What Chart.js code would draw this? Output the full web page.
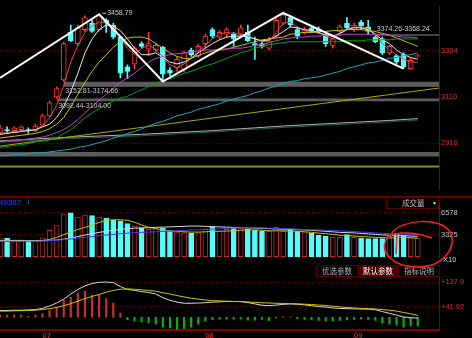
<!DOCTYPE html>
<html>
<head>
<meta charset="utf-8">
<title>K线 成交量 MACD</title>
<script src="https://cdn.jsdelivr.net/npm/chart.js@4.4.1/dist/chart.umd.min.js"></script>
<style>
  html, body { margin: 0; padding: 0; background: #000; }
  #wrap { position: relative; width: 472px; height: 338px; overflow: hidden; background: #000;
          font-family: "Liberation Sans", Arial, sans-serif; }
  #wrap canvas { position: absolute; left: 0; }
  .t { position: absolute; white-space: nowrap; line-height: 1; }
  .cn { font-family: "Noto Sans CJK SC", sans-serif; font-size: 7.5px; }
  .btn { position: absolute; top: 265px; height: 12px; border: 1px solid #5a0000; box-sizing: border-box;
         color: #b4b4b4; text-align: center; line-height: 10px; }
</style>
</head>
<body>
<div id="wrap">
  <canvas id="main" width="472" height="197" style="top:0"></canvas>
  <canvas id="vol" width="472" height="68" style="top:197px"></canvas>
  <canvas id="macd" width="472" height="73" style="top:265px"></canvas>

  <div style="position:absolute;left:0;top:196px;width:472px;height:2px;background:#6e0000"></div>
  <div class="t" style="left:-1px;top:199px;font-size:8px;color:#3a3aff">49387</div>
  <div class="t" style="left:26px;top:198px;font-size:8px;color:#38d8e8">↓</div>
  <div style="position:absolute;left:386px;top:197px;width:53px;height:12px;border:1px solid #5a0000;box-sizing:border-box"></div>
  <div class="t cn" style="left:402px;top:199px;color:#c0c0c0">成交量</div>
  <div class="t" style="left:432px;top:201px;font-size:5px;color:#e0e0e0">▼</div>
  <div class="t" style="left:443px;top:256px;font-size:7.5px;color:#d0d0d0">X10</div>
  <div class="btn cn" style="left:316px;width:42px">优选参数</div>
  <div class="btn cn" style="left:357px;width:42px;background:#4a0000;color:#fff">默认参数</div>
  <div class="btn cn" style="left:398px;width:42px">指标说明</div>

  <!-- hand drawn mark -->
  <svg width="472" height="338" style="position:absolute;left:0;top:0">
    <path d="M 392 233 C 400 220, 440 216, 450 232 C 458 246, 444 267, 418 267 C 392 267, 380 252, 386 240 C 390 232, 410 230, 432 238"
          fill="none" stroke="#ff1e1e" stroke-width="1.5"/>
    <path d="M 397 233 L 396 254" fill="none" stroke="#ff1e1e" stroke-width="1.5"/>
  </svg>
</div>

<script>
// 日K（图上读数，近似）
const open = [2960.5, 2972.2, 2968.3, 2972.2, 2972.2, 2968.3, 2991.7, 3030.7, 3110.0, 3182.0,
  3382.1, 3335.2, 3393.8, 3421.1, 3393.8, 3432.8, 3413.3, 3362.6, 3237.6, 3249.4,
  3335.2, 3311.8, 3307.9, 3319.6, 3222.0, 3233.7, 3225.9, 3307.9, 3284.5, 3335.2,
  3393.8, 3362.6, 3374.3, 3374.3, 3374.3, 3382.1, 3335.2, 3335.2, 3315.7, 3366.5,
  3421.1, 3444.6, 3393.8, 3382.1, 3401.6, 3397.7, 3366.5, 3327.4, 3386.0, 3421.1,
  3393.8, 3425.0, 3405.5, 3362.6, 3354.8, 3296.2, 3284.5, 3288.4, 3229.8, 3280.6];
const close = [2980.0, 2968.3, 2980.0, 2983.9, 2968.3, 2987.8, 3030.7, 3085.0, 3146.0, 3335.2,
  3346.9, 3401.6, 3444.6, 3386.0, 3452.4, 3421.1, 3362.6, 3210.3, 3218.1, 3315.7,
  3323.5, 3335.2, 3327.4, 3206.4, 3210.3, 3268.9, 3296.2, 3288.4, 3323.5, 3366.5,
  3366.5, 3382.1, 3393.8, 3354.8, 3401.6, 3346.9, 3327.4, 3323.5, 3346.9, 3432.8,
  3456.3, 3413.3, 3366.5, 3393.8, 3386.0, 3386.0, 3335.2, 3354.8, 3405.5, 3401.6,
  3413.3, 3409.4, 3386.0, 3343.0, 3296.2, 3323.5, 3257.2, 3237.6, 3265.0, 3284.5];
const high = [2991.7, 2983.9, 2983.9, 2987.8, 2980.0, 2995.6, 3038.5, 3092.44, 3152.81, 3343.0,
  3413.3, 3413.3, 3452.4, 3432.8, 3458.79, 3440.6, 3421.1, 3366.5, 3245.5, 3323.5,
  3343.0, 3382.1, 3335.2, 3323.5, 3233.7, 3276.7, 3304.0, 3315.7, 3331.3, 3374.3,
  3401.6, 3389.9, 3401.6, 3382.1, 3413.3, 3413.3, 3362.6, 3343.0, 3362.6, 3440.6,
  3464.1, 3452.4, 3405.5, 3405.5, 3405.5, 3405.5, 3382.1, 3358.7, 3413.3, 3444.6,
  3421.1, 3432.8, 3432.8, 3368.24, 3362.6, 3327.4, 3288.4, 3296.2, 3272.8, 3288.4];
const low = [2952.6, 2956.6, 2964.4, 2968.3, 2956.6, 2964.4, 2987.8, 3026.8, 3104.0, 3174.66,
  3343.0, 3327.4, 3386.0, 3382.1, 3386.0, 3382.1, 3354.8, 3190.8, 3186.9, 3229.8,
  3315.7, 3284.5, 3300.1, 3175.2, 3198.6, 3218.1, 3218.1, 3280.6, 3276.7, 3315.7,
  3358.7, 3354.8, 3362.6, 3323.5, 3362.6, 3343.0, 3268.9, 3315.7, 3307.9, 3358.7,
  3413.3, 3405.5, 3354.8, 3374.3, 3382.1, 3378.2, 3323.5, 3315.7, 3382.1, 3393.8,
  3386.0, 3393.8, 3374.26, 3339.1, 3288.4, 3288.4, 3249.4, 3229.8, 3226.0, 3276.7];

// 均线
const ma5 = [2956.6, 2960.5, 2964.4, 2968.3, 2968.3, 2972.2, 2987.8, 3022.9, 3073.7, 3159.6,
  3257.2, 3327.4, 3382.1, 3409.4, 3425.0, 3425.0, 3405.5, 3362.6, 3315.7, 3288.4,
  3315.7, 3327.4, 3311.8, 3276.7, 3245.5, 3233.7, 3249.4, 3272.8, 3300.1, 3327.4,
  3354.8, 3374.3, 3382.1, 3378.2, 3374.3, 3366.5, 3354.8, 3343.0, 3346.9, 3382.1,
  3421.1, 3425.0, 3405.5, 3389.9, 3382.1, 3382.1, 3366.5, 3354.8, 3374.3, 3393.8,
  3405.5, 3405.5, 3397.7, 3374.3, 3335.2, 3307.9, 3288.4, 3268.9, 3257.2, 3257.2];
const ma10 = [2952.6, 2956.6, 2960.5, 2964.4, 2968.3, 2972.2, 2983.9, 2995.6, 3022.9, 3069.8,
  3132.2, 3210.3, 3296.2, 3354.8, 3393.8, 3413.3, 3409.4, 3389.9, 3354.8, 3315.7,
  3288.4, 3288.4, 3296.2, 3276.7, 3257.2, 3249.4, 3257.2, 3272.8, 3296.2, 3315.7,
  3335.2, 3350.9, 3362.6, 3366.5, 3366.5, 3362.6, 3354.8, 3346.9, 3350.9, 3366.5,
  3386.0, 3405.5, 3401.6, 3393.8, 3389.9, 3382.1, 3370.4, 3366.5, 3378.2, 3393.8,
  3401.6, 3401.6, 3393.8, 3374.3, 3350.9, 3335.2, 3307.9, 3288.4, 3276.7, 3268.9];
const ma20 = [2937.0, 2940.9, 2944.8, 2948.7, 2952.6, 2956.6, 2964.4, 2976.1, 2995.6, 3022.9,
  3069.8, 3120.5, 3171.3, 3218.1, 3257.2, 3288.4, 3319.6, 3343.0, 3358.7, 3362.6,
  3362.6, 3354.8, 3335.2, 3315.7, 3296.2, 3280.6, 3272.8, 3272.8, 3284.5, 3296.2,
  3304.0, 3307.9, 3311.8, 3319.6, 3327.4, 3335.2, 3343.0, 3350.9, 3354.8, 3358.7,
  3362.6, 3374.3, 3378.2, 3382.1, 3382.1, 3386.0, 3386.0, 3389.9, 3389.9, 3393.8,
  3393.8, 3393.8, 3389.9, 3386.0, 3378.2, 3370.4, 3358.7, 3346.9, 3335.2, 3323.5];
const ma30 = [2921.4, 2925.3, 2925.3, 2929.2, 2933.1, 2937.0, 2940.9, 2948.7, 2960.5, 2972.2,
  2991.7, 3015.1, 3042.4, 3069.8, 3097.1, 3120.5, 3147.8, 3171.3, 3190.8, 3210.3,
  3233.7, 3257.2, 3272.8, 3280.6, 3288.4, 3292.3, 3296.2, 3300.1, 3304.0, 3307.9,
  3307.9, 3311.8, 3311.8, 3315.7, 3315.7, 3319.6, 3327.4, 3331.3, 3339.1, 3346.9,
  3354.8, 3358.7, 3362.6, 3362.6, 3366.5, 3366.5, 3370.4, 3370.4, 3370.4, 3374.3,
  3374.3, 3374.3, 3374.3, 3374.3, 3374.3, 3370.4, 3366.5, 3362.6, 3362.6, 3358.7];
const ma60 = [2898.0, 2901.9, 2905.8, 2909.7, 2913.6, 2921.4, 2925.3, 2929.2, 2937.0, 2956.6,
  2972.2, 2995.6, 3022.9, 3042.4, 3062.0, 3077.6, 3093.2, 3104.9, 3112.7, 3128.3,
  3140.0, 3155.7, 3167.4, 3179.1, 3186.9, 3198.6, 3210.3, 3218.1, 3229.8, 3241.5,
  3249.4, 3261.1, 3272.8, 3284.5, 3296.2, 3304.0, 3315.7, 3323.5, 3331.3, 3335.2,
  3339.1, 3343.0, 3343.0, 3343.0, 3343.0, 3343.0, 3343.0, 3343.0, 3343.0, 3346.9,
  3346.9, 3346.9, 3350.9, 3350.9, 3350.9, 3350.9, 3354.8, 3354.8, 3354.8, 3354.8];
const ma120 = [2862.9, 2862.9, 2866.8, 2866.8, 2870.7, 2874.6, 2874.6, 2878.5, 2882.4, 2886.3,
  2890.2, 2898.0, 2901.9, 2909.7, 2917.5, 2925.3, 2937.0, 2944.8, 2956.6, 2964.4,
  2976.1, 2987.8, 2999.5, 3007.3, 3019.0, 3030.7, 3038.5, 3046.3, 3058.1, 3065.9,
  3073.7, 3081.5, 3093.2, 3101.0, 3108.8, 3116.6, 3128.3, 3136.1, 3147.8, 3155.7,
  3167.4, 3175.2, 3179.1, 3186.9, 3190.8, 3194.7, 3202.5, 3210.3, 3218.1, 3229.8,
  3237.6, 3245.5, 3253.3, 3257.2, 3265.0, 3272.8, 3276.7, 3284.5, 3288.4, 3296.2];
// 长周期均线，只读了部分K线位置
const longBars = [0, 5, 10, 15, 20, 25, 30, 35, 40, 45, 50, 55, 59];
const maLongA = [2925.3, 2933.1, 2940.9, 2946.8, 2952.6, 2960.5, 2968.3, 2978.0, 2987.8, 2995.6, 3003.4, 3011.2, 3019.0];
const maLongB = [2919.5, 2927.2, 2935.0, 2940.9, 2946.7, 2954.6, 2962.4, 2972.2, 2981.9, 2989.7, 2997.5, 3005.3, 3013.1];

// 画线
const trendBars = [0, 62];
const trendValues = [2903.1, 3147.8];
const zigBars = [0, 14, 23, 40, 57];
const zigValues = [3190.8, 3458.79, 3175.2, 3464.1, 3229.8];
const peakBar = 14;
const peakValue = 3458.79;

// 缺口
const gapStart = [8, 9, 53];
const gapLow = [3092.44, 3152.81, 3368.24];
const gapHigh = [3104.00, 3174.66, 3374.26];
const gapText = ['3092.44-3104.00', '3152.81-3174.66', '3374.26-3368.24'];
const supportLow = 2859.0;
const supportHigh = 2878.5;
const baseLine = 2817.2;

// 成交量 (X10)
const vol = [2710, 2780, 2510, 2510, 2390, 2390, 2820, 3970, 4680, 6460,
  6578, 5940, 6260, 6180, 5940, 5790, 5470, 5390, 4960, 4600,
  4290, 4090, 4210, 4290, 3810, 3700, 3580, 3500, 3580, 4170,
  4480, 3890, 4090, 4290, 4290, 4170, 4010, 3810, 3810, 4400,
  3810, 4170, 3810, 3770, 3500, 3220, 3100, 2900, 2900, 3300,
  2900, 2780, 2710, 2710, 2710, 3100, 3500, 3180, 2900, 2820];
const volMa5 = [2390, 2390, 2390, 2390, 2390, 2390, 2430, 2590, 2900, 3300,
  3690, 4090, 4400, 4760, 5150, 5470, 5550, 5550, 5470, 5190,
  4760, 4400, 4210, 4010, 3890, 3810, 3730, 3690, 3690, 3730,
  3810, 3810, 3850, 3890, 3970, 4010, 4010, 3970, 3890, 3890,
  3890, 3850, 3810, 3730, 3650, 3530, 3460, 3340, 3220, 3180,
  3100, 3020, 2980, 2900, 2860, 2820, 2860, 2860, 2820, 2780];
const volMa10 = [2390, 2390, 2390, 2390, 2390, 2390, 2390, 2430, 2510, 2630,
  2780, 3020, 3260, 3460, 3650, 3810, 3970, 4090, 4210, 4290,
  4330, 4360, 4400, 4440, 4480, 4520, 4560, 4600, 4600, 4560,
  4520, 4480, 4440, 4400, 4360, 4330, 4290, 4250, 4210, 4170,
  4130, 4090, 4050, 4010, 3970, 3890, 3810, 3730, 3650, 3610,
  3570, 3500, 3420, 3340, 3260, 3220, 3180, 3140, 3100, 3060];
const volMa20 = [2310, 2310, 2310, 2310, 2310, 2310, 2350, 2390, 2470, 2550,
  2670, 2780, 2900, 3020, 3180, 3260, 3340, 3460, 3530, 3610,
  3650, 3690, 3730, 3810, 3850, 3890, 3930, 4010, 4050, 4090,
  4130, 4170, 4250, 4290, 4360, 4360, 4330, 4330, 4290, 4250,
  4210, 4170, 4130, 4090, 4050, 4010, 3970, 3930, 3890, 3810,
  3770, 3690, 3650, 3570, 3500, 3460, 3420, 3380, 3340, 3300];

// MACD
const dif = [26.6, 26.6, 27.7, 27.7, 28.8, 30.0, 34.8, 44.4, 56.1, 71.4,
  91.7, 109.5, 123.7, 133.3, 137.9, 139.0, 136.8, 121.2, 109.5, 105.9,
  101.3, 97.7, 91.7, 77.5, 66.8, 59.7, 55.1, 55.1, 56.1, 57.2,
  59.7, 60.8, 62.2, 62.2, 61.5, 58.0, 52.6, 47.3, 45.5, 48.0,
  50.8, 52.6, 51.5, 49.0, 45.5, 41.9, 40.1, 36.6, 34.8, 33.7,
  33.0, 32.3, 32.3, 29.5, 22.4, 15.3, 8.2, 1.0, -1.8, -3.2];
const dea = [24.1, 24.1, 25.2, 25.9, 26.6, 27.7, 30.2, 33.7, 38.4, 45.5,
  53.7, 63.3, 73.9, 82.1, 89.9, 98.8, 105.9, 110.5, 111.9, 110.5,
  108.4, 105.9, 102.4, 97.0, 91.7, 85.6, 80.0, 75.0, 71.4, 67.9,
  65.7, 64.3, 63.3, 62.2, 62.2, 60.4, 58.6, 57.2, 56.1, 55.1,
  54.4, 53.3, 52.6, 51.5, 50.1, 48.3, 46.2, 43.7, 40.9, 38.4,
  36.6, 34.8, 33.7, 32.3, 30.2, 27.7, 24.1, 18.8, 13.5, 7.4];
const macdHist = [8.5, 8.5, 8.5, 8.5, 3.6, 8.5, 14.0, 26.0, 40.5, 67.5,
  79.6, 94.9, 103.0, 87.8, 87.8, 73.6, 55.8, 16.7, -9.5, -15.3,
  -18.8, -21.3, -27.0, -39.0, -42.6, -48.0, -45.0, -39.0, -27.0, -15.3,
  -9.5, -8.0, -8.0, -8.0, -7.0, -12.0, -12.0, -9.0, -14.0, -3.0,
  3.0, 2.0, -6.0, -9.0, -11.0, -13.0, -15.0, -15.0, -13.0, -11.0,
  -9.0, -7.0, -9.0, -13.0, -24.0, -27.0, -31.0, -39.0, -33.0, -35.0];

// 坐标
const priceTicks = [3304, 3110, 2916];
const volTicks = [6578, 3325];
const macdTicks = [137.9, 41.92];
const monthLabels = ['07', '08', '09'];
const monthStart = [6, 29, 50];

const bars = open.map((_, i) => i);
const lastSlot = 62;

const RED = '#ff3232', CYAN = '#54fcfc', VOLRED = '#c02a2a', GRID = '#720000', AXIS = '#820000';
const isUp = i => close[i] >= open[i];

Chart.defaults.font.family = '"Liberation Sans", Arial, sans-serif';

function opts(yMin, yMax, ticks, fmt, tickColor, showX) {
  return {
    responsive: false, animation: false, devicePixelRatio: 1,
    layout: { padding: 0 },
    plugins: { legend: { display: false }, tooltip: { enabled: false } },
    scales: {
      x: {
        type: 'linear', min: 0, max: lastSlot, offset: false, display: showX,
        grid: { display: false, offset: false, drawTicks: false },
        border: { display: true, color: AXIS, width: 2 },
        ticks: { color: RED, font: { size: 7.5 }, padding: 1, autoSkip: false, maxRotation: 0, align: 'start',
                 callback: v => monthLabels[monthStart.indexOf(v)] },
        afterBuildTicks: s => { s.ticks = monthStart.map(v => ({ value: v })); },
        afterFit: s => { s.height = 8; }
      },
      y: {
        position: 'right', min: yMin, max: yMax, beginAtZero: false,
        grid: { color: GRID, drawTicks: false },
        border: { color: AXIS, dash: [1, 2] },
        ticks: { color: tickColor, font: { size: 7.5 }, padding: 2, callback: fmt },
        afterBuildTicks: s => { s.ticks = ticks.map(v => ({ value: v })); },
        afterFit: s => { s.width = 33; }
      }
    }
  };
}

const line = (data, color, order = 2, width = 1) => ({
  type: 'line', data, borderColor: color, borderWidth: width, pointRadius: 0,
  fill: false, tension: 0, spanGaps: true, order
});
const band = (from, lo, hi) => ({
  type: 'line', data: [{ x: from, y: hi }, { x: lastSlot, y: hi }],
  borderColor: 'rgba(0,0,0,0)', borderWidth: 1, backgroundColor: '#5c5c5c',
  fill: { value: lo }, pointRadius: 0, order: 9
});
const pts = (xs, ys) => xs.map((x, i) => ({ x, y: ys[i] }));

// 缺口和高点的文字
const mainLabels = {
  id: 'mainLabels',
  afterDatasetsDraw(chart) {
    const { ctx, scales: { x, y } } = chart;
    ctx.save();
    ctx.font = '7px "Liberation Sans", Arial';
    ctx.fillStyle = '#c8c8c8';
    gapStart.forEach((s, i) => {
      const px = x.getPixelForValue(s) + 1.5;
      const top = y.getPixelForValue(gapHigh[i]);
      if (top < chart.chartArea.height * 0.25) {
        ctx.textBaseline = 'bottom';
        ctx.fillText(gapText[i], px, top - 2);
      } else {
        ctx.textBaseline = 'top';
        ctx.fillText(gapText[i], px, y.getPixelForValue(gapLow[i]) + 1);
      }
    });
    const pk = x.getPixelForValue(peakBar), py = y.getPixelForValue(peakValue) - 1;
    ctx.strokeStyle = '#c8c8c8';
    ctx.lineWidth = 1;
    ctx.beginPath();
    ctx.moveTo(pk + 3, py);
    ctx.lineTo(pk + 7, py);
    ctx.stroke();
    ctx.textBaseline = 'middle';
    ctx.fillText(peakValue.toFixed(2), pk + 8, py);
    ctx.restore();
  }
};

new Chart(document.getElementById('main'), {
  type: 'bar',
  data: {
    labels: bars,
    datasets: [
      band(0, supportLow, supportHigh),
      line(pts([0, lastSlot], [baseLine, baseLine]), '#8c8c00', 9, 2),
      ...gapStart.map((s, i) => band(s, gapLow[i], gapHigh[i])),
      { type: 'bar', data: bars.map(i => [low[i], high[i]]), grouped: false, barThickness: 1,
        backgroundColor: c => isUp(c.dataIndex) ? RED : CYAN, order: 6 },
      { type: 'bar', data: bars.map(i => [open[i], close[i]]), grouped: false, barThickness: 5,
        borderWidth: 1, borderSkipped: false,
        backgroundColor: c => isUp(c.dataIndex) ? '#000' : CYAN,
        borderColor: c => isUp(c.dataIndex) ? RED : CYAN, order: 5 },
      line(pts(trendBars, trendValues), '#a8a800', 3),
      line(pts(longBars, maLongA), '#b4b4a4', 3),
      line(pts(longBars, maLongB), '#1f5656', 3),
      line(ma120, '#1aa6b8'),
      line(ma60, '#00a800'),
      line(ma30, '#c040c8'),
      line(ma20, '#c4c400'),
      line(ma10, '#e8e8e8'),
      line(ma5, '#e04848'),
      line(pts(zigBars, zigValues), '#ffffff', 0, 2)
    ]
  },
  options: opts(2722.3, 3491.4, priceTicks, v => String(v), '#d83030', false),
  plugins: [mainLabels]
});

new Chart(document.getElementById('vol'), {
  type: 'bar',
  data: {
    labels: bars,
    datasets: [
      { type: 'bar', data: vol, grouped: false, barThickness: 5, borderWidth: 1, borderSkipped: false,
        backgroundColor: c => isUp(c.dataIndex) ? '#000' : CYAN,
        borderColor: c => isUp(c.dataIndex) ? VOLRED : CYAN, order: 5 },
      line(volMa20, '#3c3cf0'),
      line(volMa10, '#d8d8d8'),
      line(volMa5, '#c4c400')
    ]
  },
  options: opts(-59.3, 7998.8, volTicks, v => String(v), '#c0c0c0', false)
});

new Chart(document.getElementById('macd'), {
  type: 'bar',
  data: {
    labels: bars,
    datasets: [
      { type: 'bar', data: macdHist, grouped: false, barThickness: 1.5,
        backgroundColor: c => c.raw >= 0 ? '#c83030' : '#00b400', order: 5 },
      line(dea, '#c8c800'),
      line(dif, '#d8d8d8')
    ]
  },
  options: opts(-50.5, 180.6, macdTicks, v => '+' + v, '#d83030', true)
});
</script>
</body>
</html>
